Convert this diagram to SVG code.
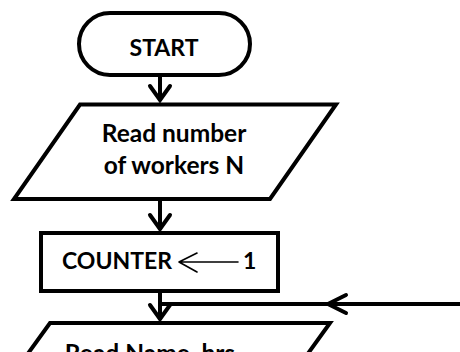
<svg xmlns="http://www.w3.org/2000/svg" width="460" height="352" viewBox="0 0 460 352">
  <style>
    .shape { fill: #ffffff; stroke: #000000; stroke-width: 4; stroke-linejoin: miter; }
    .flow { fill: none; stroke: #000000; stroke-width: 4; stroke-linecap: butt; }
    .head { fill: none; stroke: #000000; stroke-width: 4; stroke-linejoin: miter; stroke-linecap: round; }
    .thin { fill: none; stroke: #000000; stroke-width: 1.6; stroke-linecap: round; stroke-linejoin: round; }
    .label { font-family: Lato, "Liberation Sans", sans-serif; font-weight: 700; font-size: 23px; fill: #000000; }
    .wide { font-size: 24.5px; }
  </style>
  <rect width="460" height="352" fill="#ffffff"/>

  <g id="connectors">
    <!-- start to input -->
    <path class="flow" d="M160,75 V101"/>
    <path class="head" d="M150,86 L160,100 L170,86"/>
    <!-- input to counter -->
    <path class="flow" d="M160,200 V230"/>
    <path class="head" d="M150,215 L160,229 L170,215"/>
    <!-- counter to loop input -->
    <path class="flow" d="M160,291 V320"/>
    <path class="head" d="M150,305 L160,319 L170,305"/>
    <!-- loop-back line -->
    <path class="flow" d="M460,304 H162"/>
    <path class="head" d="M346,295 L328,304 L346,313"/>
  </g>

  <g id="start">
    <rect class="shape" x="79" y="13" width="171" height="62" rx="31" ry="31"/>
    <text class="label" x="164" y="56" text-anchor="middle" font-size="24px">START</text>
  </g>

  <g id="read-n">
    <polygon class="shape" points="80,104.5 336,104.5 270,199 14,199"/>
    <text class="label wide" x="174" y="142" text-anchor="middle">Read number</text>
    <text class="label wide" x="174" y="174" text-anchor="middle">of workers N</text>
  </g>

  <g id="counter">
    <rect class="shape" x="41" y="233" width="237" height="58"/>
    <text class="label" x="62" y="269">COUNTER</text>
    <path class="thin" d="M238,262 H180 M197,253 L179,262 L197,272"/>
    <text class="label" x="243" y="269">1</text>
  </g>

  <g id="read-name">
    <polygon class="shape" points="50,323 330,323 260,420 -20,420"/>
    <text class="label wide" x="150" y="362" text-anchor="middle">Read Name, hrs</text>
  </g>
</svg>
